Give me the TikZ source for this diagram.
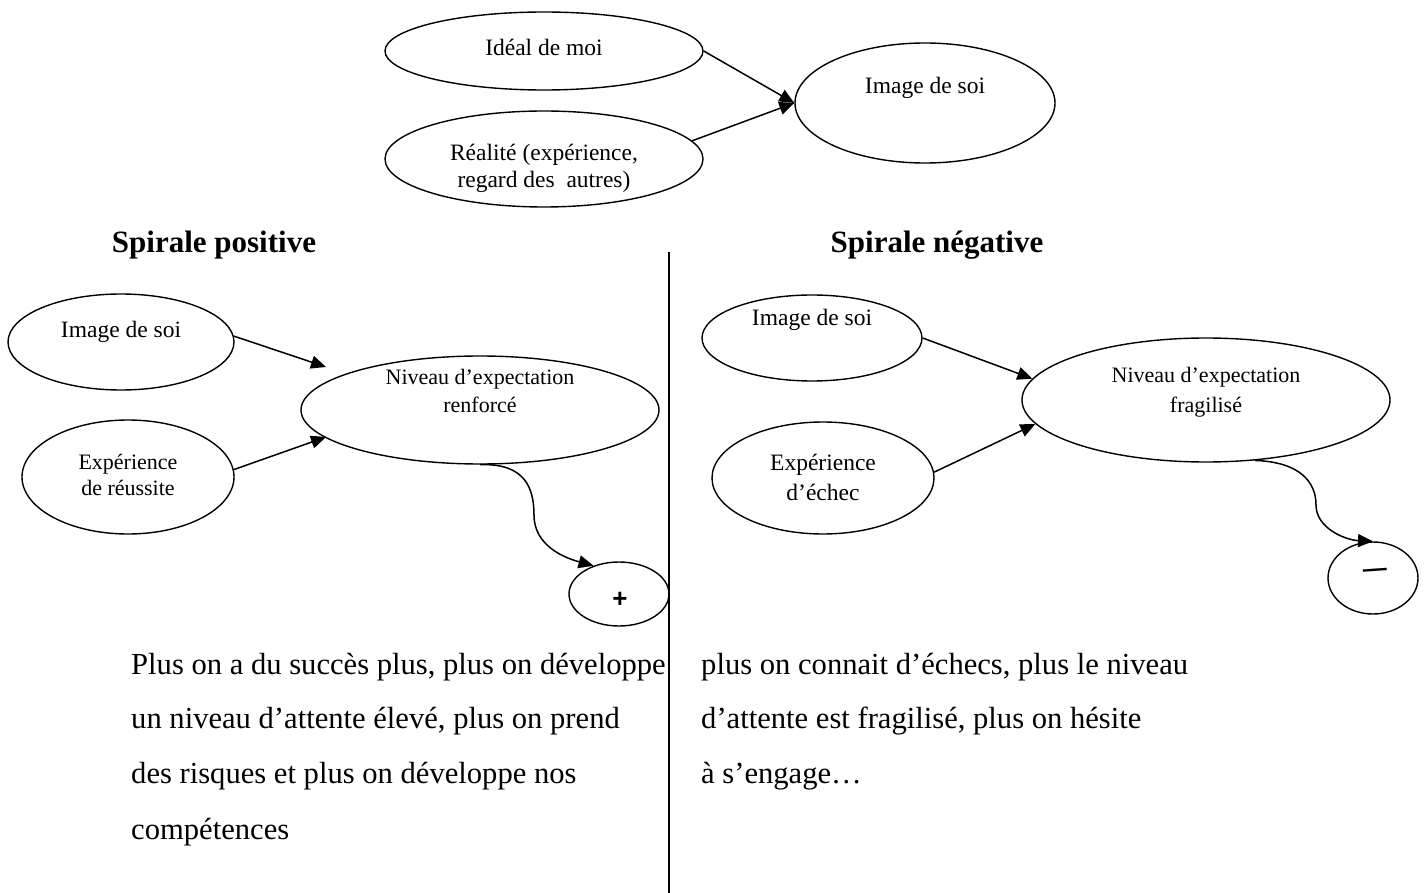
\documentclass[tikz,border=0pt]{standalone}
\usepackage{fontspec}
\setmainfont{Liberation Serif}
\newfontfamily\plusfont{Liberation Sans}
\usetikzlibrary{shapes.geometric,arrows.meta}
\begin{document}
\begin{tikzpicture}[x=1pt,y=-1pt,
  oval/.style={draw,ellipse,line width=1.4pt,inner sep=0pt},
  lbl/.style={font=\fontsize{23.5}{27}\selectfont,align=center,inner sep=0pt},
  lbls/.style={font=\fontsize{22}{28}\selectfont,align=center,inner sep=0pt},
  arr/.style={line width=1.5pt,-{Triangle[length=15pt,width=13pt]}},
  body/.style={font=\fontsize{30.6}{36}\selectfont,anchor=base west,inner sep=0pt},
  head/.style={font=\fontsize{31}{36}\selectfont\bfseries,inner sep=0pt}]
\useasboundingbox (0,0) rectangle (1425,893);

% top
\node[oval,minimum width=318,minimum height=78] (ideal) at (544,51) {};
\node[lbl] (idealT) at (544,47) {Idéal de moi};
\node[oval,minimum width=318,minimum height=96] (real) at (544,159) {};
\node[lbl] (realT) at (544,168) {Réalité (expérience,\\regard des\ \ autres)};
\node[oval,minimum width=260,minimum height=120] (img) at (925,103) {};
\node[lbl] (imgT) at (925,88) {Image de soi};
\draw[arr] (ideal.east) -- (img.west);
\draw[arr] (real.7) -- (img.west);

% headings and separator
\node[head] (hpos) at (214,245) {Spirale positive};
\node[head] (hneg) at (937,245) {Spirale négative};
\coordinate (vtop) at (669,252);
\coordinate (vbot) at (669,893);
\draw[line width=1.6pt] (vtop) -- (vbot);

% left spiral
\node[oval,minimum width=226,minimum height=96] (lis) at (121,342) {};
\node[lbl] (lisT) at (121,332) {Image de soi};
\node[oval,minimum width=358,minimum height=108] (lren) at (480,410) {};
\node[lbls] (lrenT) at (480,391) {Niveau d’expectation\\renforcé};
\node[oval,minimum width=212,minimum height=114] (lexp) at (128,477) {};
\node[lbls,font=\fontsize{22}{26}\selectfont] (lexpT) at (128,475) {Expérience\\de réussite};
\node[oval,minimum width=100,minimum height=64] (plus) at (619,594) {};
\node[font=\plusfont\bfseries\fontsize{26}{26}\selectfont,inner sep=0pt] (plusT) at (620,600) {+};
\coordinate (lrenA) at (326,367);
\coordinate (lrenB) at (326,437);
\draw[arr] (lis.3) -- (lrenA);
\draw[arr] (lexp.4) -- (lrenB);
\draw[arr] (lren.south) .. controls (525,463) and (534,488) .. (534,515)
  .. controls (534,546) and (565,558) .. (plus.132);

% right spiral
\node[oval,minimum width=220,minimum height=86] (ris) at (812,338) {};
\node[lbl] (risT) at (812,320) {Image de soi};
\node[oval,minimum width=368,minimum height=124] (rfr) at (1206,400) {};
\node[lbls,font=\fontsize{22}{30}\selectfont] (rfrT) at (1206,392) {Niveau d’expectation\\fragilisé};
\node[oval,minimum width=222,minimum height=112] (rexp) at (823,478) {};
\node[lbl,font=\fontsize{23.5}{30}\selectfont] (rexpT) at (823,477) {Expérience\\d’échec};
\node[oval,minimum width=90,minimum height=72] (minus) at (1373,578) {};
\node[rotate=4,inner sep=0pt,font=\plusfont\bfseries\fontsize{24}{24}\selectfont] (minusT) at (1375,573) {—};
\draw[arr] (ris.east) -- (rfr.173);
\draw[arr] (rexp.3) -- (rfr.188);
\draw[arr] (rfr.-51) .. controls (1300,462) and (1316,482) .. (1316,505)
  .. controls (1316,528) and (1345,540) .. (minus.north);

% body text
\node[body] (l1) at (131,674) {Plus on a du succès plus, plus on développe};
\node[body] (l2) at (131,728) {un niveau d’attente élevé, plus on prend};
\node[body] (l3) at (131,783) {des risques et plus on développe nos};
\node[body] (l4) at (131,839) {compétences};
\node[body] (r1) at (701,674) {plus on connait d’échecs, plus le niveau};
\node[body] (r2) at (701,728) {d’attente est fragilisé, plus on hésite};
\node[body] (r3) at (701,783) {à s’engage…};
\end{tikzpicture}
\end{document}
